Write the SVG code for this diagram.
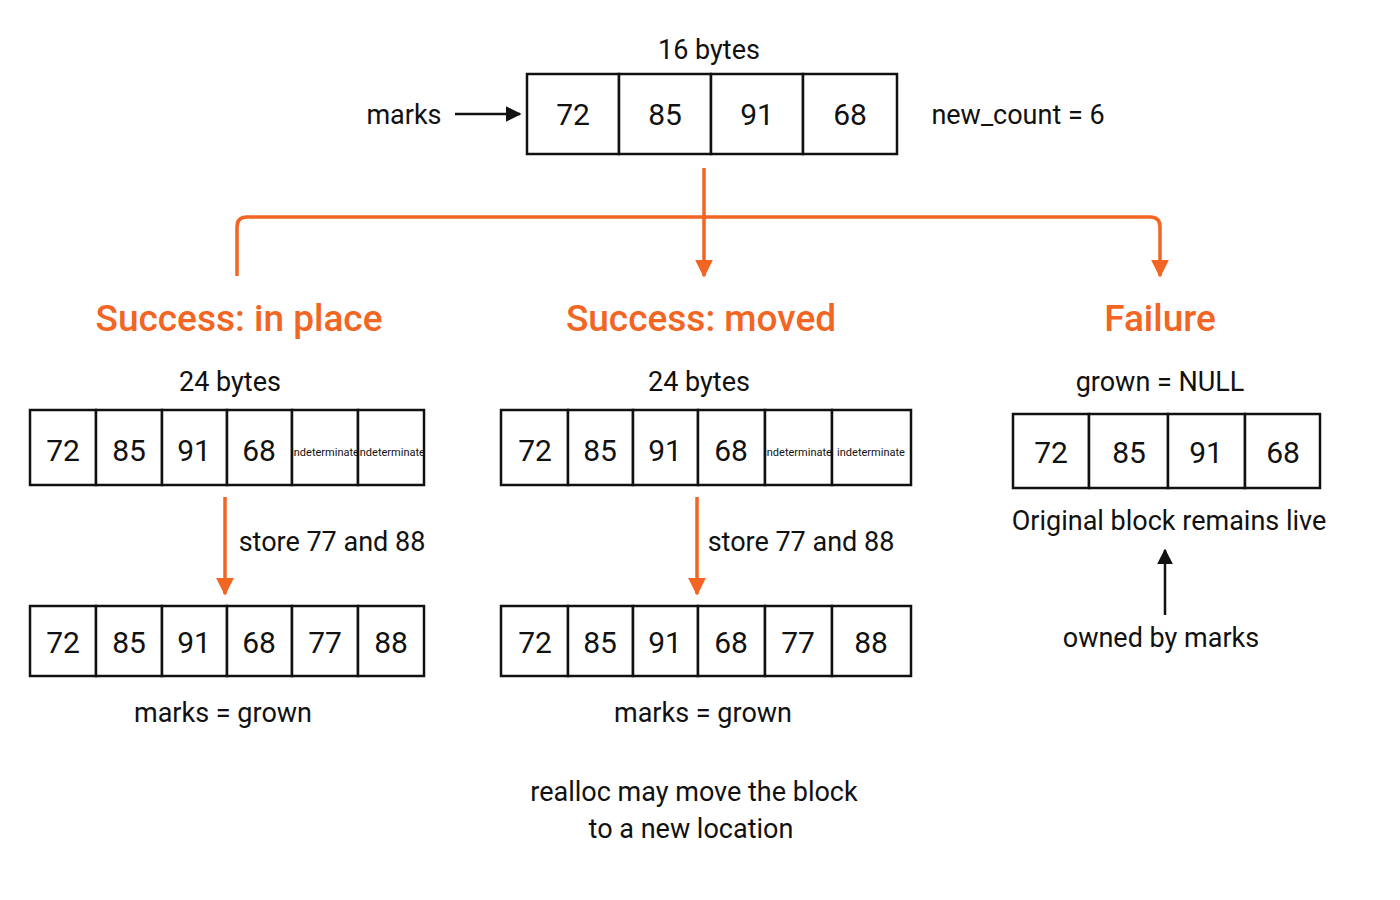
<svg xmlns="http://www.w3.org/2000/svg" width="1400" height="900" viewBox="0 0 1400 900">
<style>
text{font-family:Roboto,"DejaVu Sans",sans-serif;fill:#111;text-anchor:middle}
.c{fill:#fff;stroke:#111;stroke-width:2.5}
.n{font-size:30px}
.t{font-size:27px}
.s{font-size:11px}
.h{font-size:37px;fill:#f26522;font-weight:500}
.o{fill:none;stroke:#f26522;stroke-width:3.5}
.k{fill:none;stroke:#111;stroke-width:2.5}
</style>
<defs>
<marker id="ao" markerWidth="8" markerHeight="8" refX="5" refY="4" orient="auto" markerUnits="userSpaceOnUse" viewBox="0 0 8 8"><path d="M0,0L8,4L0,8z" fill="#f26522"/></marker>
<marker id="ak" viewBox="0 0 10 10" refX="9" refY="5" markerWidth="16" markerHeight="16" orient="auto" markerUnits="userSpaceOnUse"><path d="M0,0L10,5L0,10z" fill="#111"/></marker>
<marker id="aoo" viewBox="0 0 10 10" refX="9" refY="5" markerWidth="18" markerHeight="18" orient="auto" markerUnits="userSpaceOnUse"><path d="M0,0L10,5L0,10z" fill="#f26522"/></marker>
</defs>
<rect width="1400" height="900" fill="#fff"/>
<g id="connectors">
<path class="k" d="M455,114H520" marker-end="url(#ak)"/>
<path class="o" d="M704,168V276" marker-end="url(#aoo)"/>
<path class="o" d="M237,276V227Q237,217 247,217H1150Q1160,217 1160,227V276" marker-end="url(#aoo)"/>
<path class="o" d="M225,497V594" marker-end="url(#aoo)"/>
<path class="o" d="M697,497V594" marker-end="url(#aoo)"/>
<path class="k" d="M1165,615V550" marker-end="url(#ak)"/>
</g>
<g id="top">
<text class="t" x="709" y="59">16 bytes</text>
<text class="t" x="404" y="124">marks</text>
<rect class="c" x="527" y="74" width="92" height="80"/><rect class="c" x="619" y="74" width="92" height="80"/><rect class="c" x="711" y="74" width="92" height="80"/><rect class="c" x="803" y="74" width="94" height="80"/>
<text class="n" x="573" y="125">72</text><text class="n" x="665" y="125">85</text><text class="n" x="757" y="125">91</text><text class="n" x="850" y="125">68</text>
<text class="t" x="1018" y="124">new_count = 6</text>
</g>
<g id="inplace">
<text class="h" x="239" y="331">Success: in place</text>
<text class="t" x="230" y="391">24 bytes</text>
<rect class="c" x="30" y="410" width="66" height="75"/><rect class="c" x="96" y="410" width="66" height="75"/><rect class="c" x="162" y="410" width="65" height="75"/><rect class="c" x="227" y="410" width="65" height="75"/><rect class="c" x="292" y="410" width="66" height="75"/><rect class="c" x="358" y="410" width="66" height="75"/>
<text class="n" x="63" y="461">72</text><text class="n" x="129" y="461">85</text><text class="n" x="194" y="461">91</text><text class="n" x="259" y="461">68</text><text class="s" x="325" y="456">indeterminate</text><text class="s" x="391" y="456">indeterminate</text>
<text class="t" x="332" y="551">store 77 and 88</text>
<rect class="c" x="30" y="606" width="66" height="70"/><rect class="c" x="96" y="606" width="66" height="70"/><rect class="c" x="162" y="606" width="65" height="70"/><rect class="c" x="227" y="606" width="65" height="70"/><rect class="c" x="292" y="606" width="66" height="70"/><rect class="c" x="358" y="606" width="66" height="70"/>
<text class="n" x="63" y="653">72</text><text class="n" x="129" y="653">85</text><text class="n" x="194" y="653">91</text><text class="n" x="259" y="653">68</text><text class="n" x="325" y="653">77</text><text class="n" x="391" y="653">88</text>
<text class="t" x="223" y="722">marks  =  grown</text>
</g>
<g id="moved">
<text class="h" x="701" y="331">Success: moved</text>
<text class="t" x="699" y="391">24 bytes</text>
<rect class="c" x="501" y="410" width="67" height="75"/><rect class="c" x="568" y="410" width="65" height="75"/><rect class="c" x="633" y="410" width="65" height="75"/><rect class="c" x="698" y="410" width="67" height="75"/><rect class="c" x="765" y="410" width="67" height="75"/><rect class="c" x="832" y="410" width="79" height="75"/>
<text class="n" x="535" y="461">72</text><text class="n" x="600" y="461">85</text><text class="n" x="665" y="461">91</text><text class="n" x="731" y="461">68</text><text class="s" x="798" y="456">indeterminate</text><text class="s" x="871" y="456">indeterminate</text>
<text class="t" x="801" y="551">store 77 and 88</text>
<rect class="c" x="501" y="606" width="67" height="70"/><rect class="c" x="568" y="606" width="65" height="70"/><rect class="c" x="633" y="606" width="65" height="70"/><rect class="c" x="698" y="606" width="67" height="70"/><rect class="c" x="765" y="606" width="67" height="70"/><rect class="c" x="832" y="606" width="79" height="70"/>
<text class="n" x="535" y="653">72</text><text class="n" x="600" y="653">85</text><text class="n" x="665" y="653">91</text><text class="n" x="731" y="653">68</text><text class="n" x="798" y="653">77</text><text class="n" x="871" y="653">88</text>
<text class="t" x="703" y="722">marks  =  grown</text>
<text class="t" x="694" y="801">realloc may move the block</text>
<text class="t" x="691" y="838">to a new location</text>
</g>
<g id="failure">
<text class="h" x="1160" y="331">Failure</text>
<text class="t" x="1160" y="391">grown = NULL</text>
<rect class="c" x="1013" y="414" width="76" height="74"/><rect class="c" x="1089" y="414" width="79" height="74"/><rect class="c" x="1168" y="414" width="77" height="74"/><rect class="c" x="1245" y="414" width="75" height="74"/>
<text class="n" x="1051" y="463">72</text><text class="n" x="1129" y="463">85</text><text class="n" x="1206" y="463">91</text><text class="n" x="1283" y="463">68</text>
<text class="t" x="1169" y="530">Original block remains live</text>
<text class="t" x="1161" y="647">owned by marks</text>
</g>
</svg>
